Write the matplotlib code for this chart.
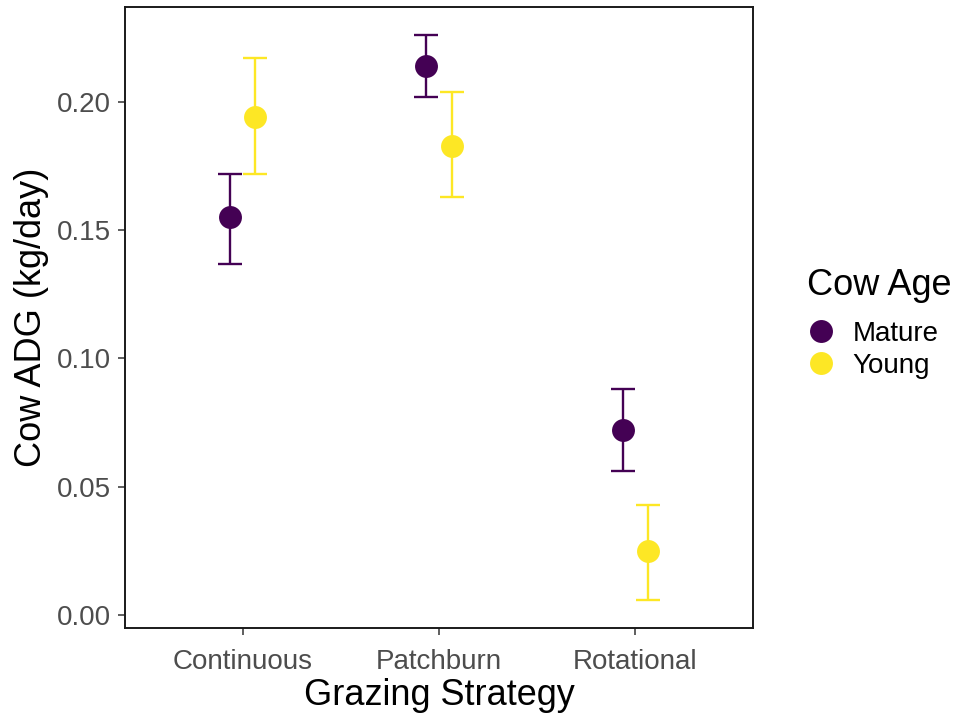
import matplotlib
matplotlib.use("Agg")
import matplotlib.pyplot as plt
import numpy as np
from matplotlib.lines import Line2D

plt.rcParams['font.family'] = ['Liberation Sans', 'DejaVu Sans']

strategies = ["Continuous", "Patchburn", "Rotational"]
ages = ["Mature", "Young"]
colors = {"Mature": "#440154", "Young": "#FDE725"}

mean_mature = [0.155, 0.214, 0.072]
low_mature = [0.137, 0.202, 0.056]
high_mature = [0.172, 0.226, 0.088]

mean_young = [0.194, 0.183, 0.025]
low_young = [0.172, 0.163, 0.006]
high_young = [0.217, 0.204, 0.043]

series = {
    "Mature": (mean_mature, low_mature, high_mature),
    "Young": (mean_young, low_young, high_young),
}
offsets = {"Mature": -0.064, "Young": 0.064}

fig = plt.figure(figsize=(9.56, 7.15), dpi=100)
ax = fig.add_axes([0.1308, 0.1217, 0.7877 - 0.1308, 0.9902 - 0.1217])

x = np.arange(1, len(strategies) + 1)
for age in ages:
    m, lo, hi = series[age]
    m = np.array(m); lo = np.array(lo); hi = np.array(hi)
    xs = x + offsets[age]
    ax.errorbar(xs, m, yerr=[m - lo, hi - m], fmt='none', ecolor=colors[age],
                elinewidth=1.7, capsize=8.3, capthick=1.7, zorder=2)
    ax.plot(xs, m, 'o', color=colors[age], ms=16.5, mec='none', zorder=3)

ax.set_xlim(0.4, 3.6)
ax.set_ylim(-0.0051, 0.2370)
ax.set_xticks(x)
ax.set_xticklabels(strategies)
ax.set_yticks([0.0, 0.05, 0.10, 0.15, 0.20])
ax.set_yticklabels(["0.00", "0.05", "0.10", "0.15", "0.20"])
ax.tick_params(axis='both', colors='#333333', labelcolor='#4D4D4D',
               labelsize=20, length=5, width=1.1)
ax.tick_params(axis='x', pad=10)
ax.tick_params(axis='y', pad=5)

for s in ax.spines.values():
    s.set_color('#1a1a1a')
    s.set_linewidth(1.4)

ax.set_xlabel("Grazing Strategy", fontsize=26, labelpad=2)
ax.set_ylabel("Cow ADG (kg/day)", fontsize=26, labelpad=6)

handles = [Line2D([], [], marker='o', ls='none', color=colors[a], ms=16.5, mec='none')
           for a in ages]
leg = fig.legend(handles, ages, title="Cow Age", loc='upper left',
                 bbox_to_anchor=(0.844, 0.625), frameon=False,
                 fontsize=20, title_fontsize=26, handletextpad=0.65,
                 labelspacing=0.2, borderaxespad=0, borderpad=0,
                 handlelength=1.0)
leg._legend_box.align = "left"
leg._legend_box.sep = 13

fig.savefig("out.png", dpi=100)
